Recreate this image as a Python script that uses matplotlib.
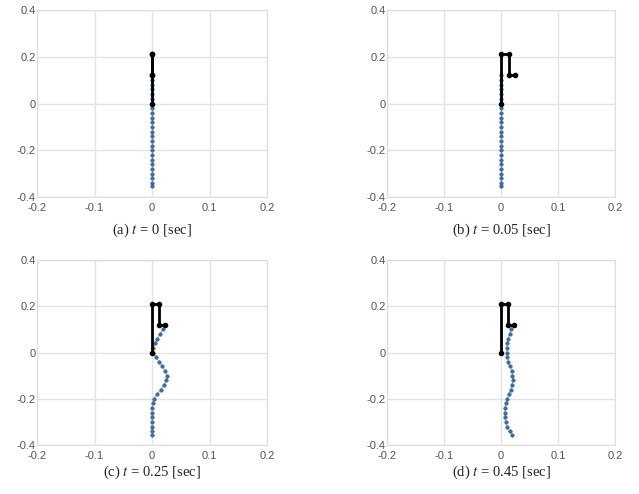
import matplotlib.pyplot as plt

plt.rcParams['font.family'] = ['Liberation Sans', 'DejaVu Sans']
plt.rcParams['mathtext.fontset'] = 'stix'

# arm (black) joint positions per snapshot
arm_y = [0.0, 0.21, 0.21, 0.12, 0.12]
arm_x_a = [0.0, 0.0, 0.0, 0.0, 0.0]
arm_x_b = [0.0, 0.0, 0.014, 0.014, 0.024]
arm_x_c = [0.0, 0.0, 0.013, 0.013, 0.023]
arm_x_d = [0.0, 0.0, 0.013, 0.013, 0.022]

# hanging chain (blue) node positions per snapshot
chain_y = [0.12, 0.10, 0.08, 0.06, 0.04, 0.02, 0.0, -0.02, -0.04, -0.06,
           -0.08, -0.10, -0.12, -0.14, -0.16, -0.18, -0.20, -0.22, -0.24,
           -0.26, -0.28, -0.30, -0.32, -0.34, -0.355]
chain_x_a = [0.0] * 25
chain_x_b = [0.0] * 25
chain_x_c = [0.023, 0.019, 0.014, 0.009, 0.005, 0.002, 0.002, 0.007, 0.013,
             0.018, 0.023, 0.026, 0.025, 0.021, 0.015, 0.009, 0.004, 0.001,
             0.0, 0.0, 0.0, 0.0, 0.0, 0.0, 0.0]
chain_x_d = [0.022, 0.018, 0.015, 0.012, 0.011, 0.010, 0.010, 0.011, 0.013,
             0.016, 0.019, 0.020, 0.021, 0.019, 0.017, 0.014, 0.011, 0.009,
             0.007, 0.007, 0.007, 0.008, 0.011, 0.015, 0.019]

captions = ['(a) $t$ = 0 [sec]', '(b) $t$ = 0.05 [sec]',
            '(c) $t$ = 0.25 [sec]', '(d) $t$ = 0.45 [sec]']

xticks = [-0.2, -0.1, 0, 0.1, 0.2]
xtick_labels = ['-0.2', '-0.1', '0', '0.1', '0.2']
yticks = [-0.4, -0.2, 0, 0.2, 0.4]
ytick_labels = ['-0.4', '-0.2', '0', '0.2', '0.4']

W, H = 639, 494
# axes boxes in pixels: left, bottom(from top), right, top(from top)
boxes = [(37, 197, 267, 10), (387, 197, 615, 10),
         (37, 445, 267, 260), (387, 445, 615, 260)]
caption_y = [230, 230, 472, 472]

panels = [(arm_x_a, chain_x_a), (arm_x_b, chain_x_b),
          (arm_x_c, chain_x_c), (arm_x_d, chain_x_d)]

fig = plt.figure(figsize=(W / 100, H / 100), dpi=100)

for i, (arm_x, chain_x) in enumerate(panels):
    l, b, r, t = boxes[i]
    ax = fig.add_axes([l / W, 1 - b / H, (r - l) / W, (b - t) / H])
    ax.grid(True, color='#e3e3e3', lw=1)
    ax.set_axisbelow(True)
    ax.plot(chain_x, chain_y, '-', color='#9dbde0', lw=0.8, zorder=2)
    ax.plot(chain_x, chain_y, 'o', color='#3d6fa8', ms=2.5, mec='#2f5a8e',
            mew=0.4, zorder=3)
    ax.plot(arm_x, arm_y, '-o', color='black', lw=2, ms=3, zorder=4)
    ax.set_xlim(-0.2, 0.2)
    ax.set_ylim(-0.4, 0.4)
    ax.set_xticks(xticks)
    ax.set_xticklabels(xtick_labels)
    ax.set_yticks(yticks)
    ax.set_yticklabels(ytick_labels)
    ax.tick_params(length=0, labelsize=8, colors='#555555')
    ax.tick_params(axis='y', pad=1)
    ax.tick_params(axis='x', pad=4)
    for s in ax.spines.values():
        s.set_color('#dddddd')
        s.set_linewidth(0.8)
    fig.text((l + r) / 2 / W, 1 - caption_y[i] / H, captions[i],
             ha='center', va='center', fontsize=10.5,
             family='Liberation Serif', color='#222222')

fig.savefig('out.png', dpi=100)
